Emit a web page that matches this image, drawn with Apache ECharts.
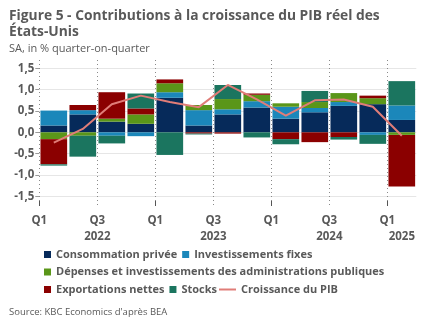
<!DOCTYPE html>
<html>
<head>
<meta charset="utf-8">
<script src="https://cdn.jsdelivr.net/npm/echarts@6/dist/echarts.min.js"></script>
<style>
  html, body { margin: 0; padding: 0; background: #fff; }
  #chart { width: 432px; height: 334px; }
</style>
</head>
<body>
<div id="chart"></div>
<script>
// Quarters, 2022Q1 .. 2025Q1
const quarters = ['2022Q1','2022Q2','2022Q3','2022Q4','2023Q1','2023Q2','2023Q3','2023Q4','2024Q1','2024Q2','2024Q3','2024Q4','2025Q1'];

// Contributions to real GDP growth, percentage points (q/q)
const consommation   = [0.16, 0.42, 0.25, 0.20, 0.81, 0.16, 0.42, 0.58, 0.32, 0.47, 0.62, 0.66, 0.29];
const investissement = [0.35, 0.10, -0.08, -0.09, 0.13, 0.36, 0.12, 0.15, 0.28, 0.10, 0.09, -0.06, 0.34];
const administrations = [-0.16, -0.08, 0.07, 0.22, 0.21, 0.12, 0.24, 0.15, 0.08, 0.14, 0.21, 0.14, -0.06];
const exportations   = [-0.59, 0.12, 0.62, 0.14, 0.09, -0.03, -0.03, 0.03, -0.16, -0.23, -0.11, 0.06, -1.21];
const stocks         = [-0.03, -0.49, -0.18, 0.35, -0.53, -0.02, 0.33, -0.12, -0.12, 0.26, -0.06, -0.21, 0.57];
const croissancePIB  = [-0.24, 0.08, 0.66, 0.86, 0.71, 0.59, 1.11, 0.77, 0.39, 0.75, 0.77, 0.60, -0.08];

// Tick labels, keyed by position in quarters from the start of 2022Q1
const quarterTicks = { 0: 'Q1', 2: 'Q3', 4: 'Q1', 6: 'Q3', 8: 'Q1', 10: 'Q3', 12: 'Q1' };
const yearTicks = { 2: '2022', 6: '2023', 10: '2024', 12.5: '2025' };

const FONT = '"Open Sans", sans-serif';
const GREY = '#595959';
const COLORS = {
  cons: '#062a5a', inv: '#1b87ba', gov: '#5a9619', exp: '#8b0000', stk: '#1b755f', gdp: '#e07d78'
};

const chart = echarts.init(document.getElementById('chart'), null, { renderer: 'canvas' });

const PLOT_LEFT = 39.3;
const STEP = 29;
const PLOT_RIGHT = 432 - (PLOT_LEFT + STEP * quarters.length);

// Boundary positions between quarters (0..13) and half-quarter positions (0..13 by 0.5)
const boundaries = Array.from({ length: quarters.length + 1 }, (_, i) => String(i));
const halfSteps = Array.from({ length: 2 * quarters.length + 1 }, (_, i) => String(i / 2));

function barSeries(name, data, color) {
  return {
    name, type: 'bar', stack: 'contrib', data,
    xAxisIndex: 0, yAxisIndex: 0,
    barCategoryGap: '8%',
    itemStyle: { color },
    emphasis: { disabled: true }
  };
}

const legendText = { fontFamily: FONT, fontSize: 11, fontWeight: 'bold', color: GREY };
const axisText = { fontFamily: FONT, fontSize: 11.5, fontWeight: 'bold', color: GREY };

const option = {
  animation: false,
  textStyle: { fontFamily: FONT },
  title: [
    {
      text: 'Figure 5 - Contributions à la croissance du PIB réel des\nÉtats-Unis',
      left: 9, top: 7.8, padding: 0,
      textStyle: { fontFamily: FONT, fontSize: 13.8, fontWeight: 'bold', color: GREY, lineHeight: 16 }
    },
    {
      text: 'SA, in % quarter-on-quarter',
      left: 9, top: 41.5, padding: 0,
      textStyle: { fontFamily: FONT, fontSize: 11, fontWeight: 'normal', color: GREY, lineHeight: 14 }
    },
    {
      text: "Source: KBC Economics d'après BEA",
      left: 9, top: 306, padding: 0,
      textStyle: { fontFamily: FONT, fontSize: 9.5, fontWeight: 'normal', color: GREY, lineHeight: 13 }
    }
  ],
  legend: [
    {
      data: ['Consommation privée', 'Investissements fixes'],
      left: 44, top: 249, padding: 0, itemGap: 5, itemWidth: 7, itemHeight: 7, icon: 'rect',
      selectedMode: false, textStyle: legendText
    },
    {
      data: ['Dépenses et investissements des administrations publiques'],
      left: 44, top: 266.5, padding: 0, itemGap: 5, itemWidth: 7, itemHeight: 7, icon: 'rect',
      selectedMode: false, textStyle: legendText
    },
    {
      data: ['Exportations nettes', 'Stocks'],
      left: 44, top: 284, padding: 0, itemGap: 5, itemWidth: 7, itemHeight: 7, icon: 'rect',
      selectedMode: false, textStyle: legendText
    },
    {
      data: ['Croissance du PIB'],
      left: 219, top: 284, padding: 0, itemGap: 5, itemWidth: 17, itemHeight: 2, icon: 'rect',
      selectedMode: false, textStyle: legendText
    }
  ],
  grid: [
    // bars and growth line
    { left: PLOT_LEFT, right: PLOT_RIGHT, top: 68.33, bottom: 334 - 196.33 },
    // dotted quarter separators and tick labels
    { left: PLOT_LEFT, right: PLOT_RIGHT, top: 60, bottom: 334 - 206 }
  ],
  xAxis: [
    {
      type: 'category', gridIndex: 0, data: quarters, boundaryGap: true, position: 'bottom',
      axisLine: { show: false }, axisTick: { show: false }, axisLabel: { show: false },
      splitLine: { show: false }
    },
    {
      // quarter boundaries: dotted separators every half year, Q1/Q3 labels, solid ticks at Q1
      type: 'category', gridIndex: 1, data: boundaries, boundaryGap: false, position: 'bottom',
      axisLine: { show: false },
      axisTick: {
        show: true, inside: true, length: 5,
        interval: (i) => i % 4 === 0 && i < quarters.length,
        lineStyle: { color: '#555', width: 1 }
      },
      splitLine: {
        show: true,
        interval: (i) => i % 2 === 0 && i < quarters.length,
        lineStyle: { color: '#8a8a8a', type: [1, 3], width: 1 }
      },
      axisLabel: {
        ...axisText, margin: 8.5, interval: 0,
        formatter: (v) => quarterTicks[Number(v)] || ''
      }
    },
    {
      // year labels
      type: 'category', gridIndex: 1, data: halfSteps, boundaryGap: false, position: 'bottom',
      axisLine: { show: false }, axisTick: { show: false }, splitLine: { show: false },
      axisLabel: {
        ...axisText, margin: 24.5, interval: 0,
        formatter: (v) => yearTicks[Number(v)] || ''
      }
    }
  ],
  yAxis: [
    {
      type: 'value', gridIndex: 0, min: -1.5, max: 1.5, interval: 0.5,
      axisLine: { show: false },
      axisTick: { show: true, length: 4, lineStyle: { color: '#9a9a9a' } },
      splitLine: { show: true, lineStyle: { color: '#e6e6e6', width: 1 } },
      axisLabel: {
        ...axisText, margin: 5,
        formatter: (v) => v.toFixed(1).replace('.', ',')
      }
    },
    {
      type: 'value', gridIndex: 1, min: 0, max: 1, show: false
    }
  ],
  series: [
    barSeries('Consommation privée', consommation, COLORS.cons),
    barSeries('Investissements fixes', investissement, COLORS.inv),
    barSeries('Dépenses et investissements des administrations publiques', administrations, COLORS.gov),
    barSeries('Exportations nettes', exportations, COLORS.exp),
    barSeries('Stocks', stocks, COLORS.stk),
    {
      name: 'Croissance du PIB', type: 'line', data: croissancePIB,
      xAxisIndex: 0, yAxisIndex: 0, z: 5,
      symbol: 'none', showSymbol: false,
      lineStyle: { color: COLORS.gdp, width: 2 },
      itemStyle: { color: COLORS.gdp },
      emphasis: { disabled: true }
    }
  ]
};

chart.setOption(option);
</script>
</body>
</html>
